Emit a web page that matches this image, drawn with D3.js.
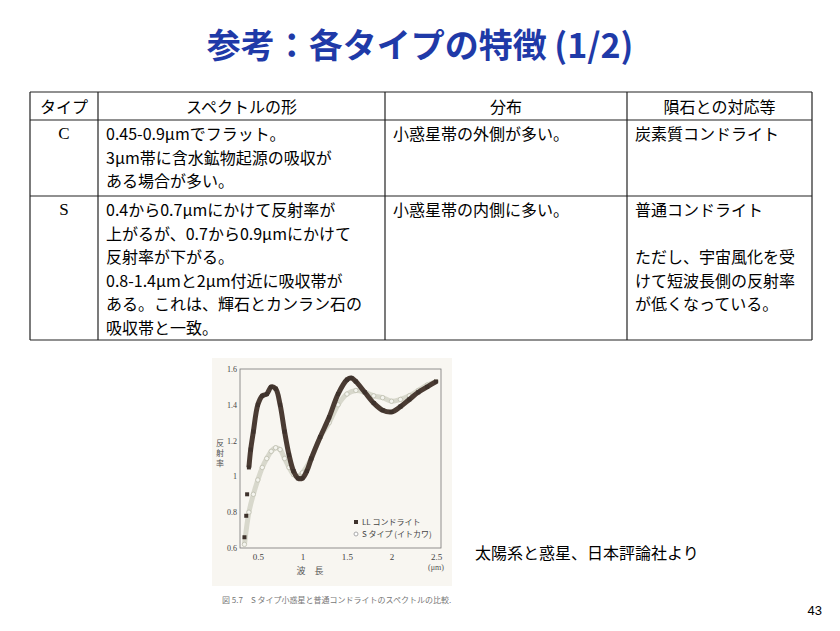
<!DOCTYPE html><html><head><meta charset="utf-8"><script src="https://cdn.jsdelivr.net/npm/d3@7"></script>
<style>body{margin:0;background:#fff}svg{display:block}</style></head><body><svg id="s" width="840" height="631"></svg>
<script>
const llX=[0.35,0.37,0.38,0.40,0.42,0.45,0.50,0.55,0.60,0.65,0.70,0.75,0.80,0.85,0.90,0.95,1.00,1.05,1.10,1.20,1.30,1.40,1.50,1.55,1.60,1.70,1.80,1.90,2.00,2.10,2.20,2.30,2.40,2.50];
const llY=[0.66,0.78,0.90,1.05,1.15,1.25,1.40,1.45,1.46,1.50,1.49,1.40,1.25,1.12,1.03,0.99,0.99,1.03,1.10,1.22,1.33,1.46,1.54,1.55,1.53,1.47,1.41,1.37,1.36,1.39,1.43,1.47,1.50,1.53];
const sX=[0.35,0.40,0.45,0.50,0.55,0.60,0.65,0.70,0.75,0.80,0.85,0.90,0.95,1.00,1.10,1.20,1.30,1.40,1.50,1.60,1.70,1.80,1.90,2.00,2.10,2.20,2.30,2.40,2.50];
const sY=[0.62,0.80,0.90,0.98,1.05,1.10,1.14,1.16,1.15,1.10,1.05,1.01,1.00,1.02,1.10,1.22,1.30,1.40,1.46,1.48,1.47,1.45,1.44,1.42,1.43,1.45,1.48,1.51,1.53];
const xTicks=[0.5,1,1.5,2,2.5];
const yTicks=[0.6,0.8,1,1.2,1.4,1.6];
const headers=["タイプ","スペクトルの形","分布","隕石との対応等"];
const rowC=["C",["0.45-0.9μmでフラット。","3μm帯に含水鉱物起源の吸収が","ある場合が多い。"],["小惑星帯の外側が多い。"],["炭素質コンドライト"]];
const rowS=["S",["0.4から0.7μmにかけて反射率が","上がるが、0.7から0.9μmにかけて","反射率が下がる。","0.8-1.4μmと2μm付近に吸収帯が","ある。これは、輝石とカンラン石の","吸収帯と一致。"],["小惑星帯の内側に多い。"],["普通コンドライト","","ただし、宇宙風化を受","けて短波長側の反射率","が低くなっている。"]];
const svg=d3.select("#s");
const jp="'Noto Sans CJK JP',sans-serif";
svg.append("text").attr("x",420).attr("y",58).attr("text-anchor","middle").attr("font-family",jp).attr("font-weight","bold").attr("font-size",34).attr("fill","#1f3aa8").text("参考：各タイプの特徴 (1/2)");
const cols=[30,98,385,627,812], rows=[92,120,196,340];
const t=svg.append("g").attr("stroke","#222").attr("stroke-width",1.2);
rows.forEach(y=>t.append("line").attr("x1",30).attr("x2",812).attr("y1",y).attr("y2",y));
cols.forEach(x=>t.append("line").attr("x1",x).attr("x2",x).attr("y1",92).attr("y2",340));
headers.forEach((h,i)=>svg.append("text").attr("x",(cols[i]+cols[i+1])/2).attr("y",113).attr("text-anchor","middle").attr("font-family",jp).attr("font-size",16).text(h));
function row(r,top){
  svg.append("text").attr("x",64).attr("y",top+19).attr("text-anchor","middle").attr("font-family","'Liberation Serif',serif").attr("font-size",17).text(r[0]);
  [r[1],r[2],r[3]].forEach((lines,i)=>lines.forEach((l,j)=>svg.append("text").attr("x",cols[i+1]+8).attr("y",top+20+j*23.5).attr("font-family",jp).attr("font-size",16).text(l)));
}
row(rowC,120);row(rowS,196);
const g=svg.append("g");
g.append("rect").attr("x",212).attr("y",358).attr("width",240).attr("height",228).attr("fill","#f8f6f1");
const x=d3.scaleLinear().domain([0.3,2.6]).range([240,445]);
const y=d3.scaleLinear().domain([0.6,1.6]).range([548,369]);
g.append("rect").attr("x",240).attr("y",369).attr("width",201).attr("height",179).attr("fill","none").attr("stroke","#777").attr("stroke-width",0.8);
g.append("g").attr("transform","translate(0,548)").call(d3.axisBottom(x).tickValues(xTicks).tickSize(0).tickPadding(6).tickFormat(d=>d)).call(a=>{a.select(".domain").remove();a.selectAll("text").style("font-family","'Liberation Serif',serif").style("font-size","9px").attr("fill","#444");});
g.append("g").attr("transform","translate(240,0)").call(d3.axisLeft(y).tickValues(yTicks).tickSize(0).tickPadding(3).tickFormat(d=>d)).call(a=>{a.select(".domain").remove();a.selectAll("text").style("font-family","'Liberation Serif',serif").style("font-size","8px").attr("fill","#444");});
const ln=d3.line().x(d=>x(d[0])).y(d=>y(d[1])).curve(d3.curveCatmullRom);
const sd=sX.map((v,i)=>[v,sY[i]]), ld=llX.map((v,i)=>[v,llY[i]]);
g.append("path").attr("d",ln(sd)).attr("fill","none").attr("stroke","#d8d8cc").attr("stroke-width",5);
g.selectAll(".sc").data(sd).enter().append("circle").attr("cx",d=>x(d[0])).attr("cy",d=>y(d[1])).attr("r",2.2).attr("fill","#f4f4ee").attr("stroke","#b8b8a8").attr("stroke-width",0.7);
g.append("path").attr("d",ln(ld.slice(3))).attr("fill","none").attr("stroke","#4a3b33").attr("stroke-width",5);
g.selectAll(".lc").data(ld).enter().append("rect").attr("x",d=>x(d[0])-2).attr("y",d=>y(d[1])-2).attr("width",4).attr("height",4).attr("fill","#3e322c");
g.append("rect").attr("x",354).attr("y",520).attr("width",4).attr("height",4).attr("fill","#3e322c");
g.append("text").attr("x",362).attr("y",525).attr("font-family",jp).attr("font-size",8).attr("fill","#444").text("LL コンドライト");
g.append("circle").attr("cx",356).attr("cy",534).attr("r",2).attr("fill","#fff").attr("stroke","#aaa");
g.append("text").attr("x",362).attr("y",537).attr("font-family",jp).attr("font-size",8).attr("fill","#444").text("S タイプ (イトカワ)");
g.append("text").attr("x",310).attr("y",574).attr("text-anchor","middle").attr("font-family",jp).attr("font-size",9).attr("fill","#555").text("波　長");
g.append("text").attr("x",436).attr("y",570).attr("text-anchor","middle").attr("font-family","'Liberation Serif',serif").attr("font-size",8).attr("fill","#555").text("(μm)");
["反","射","率"].forEach((c,i)=>g.append("text").attr("x",220).attr("y",446+i*10).attr("text-anchor","middle").attr("font-family",jp).attr("font-size",8).attr("fill","#555").text(c));
svg.append("text").attr("x",475).attr("y",559).attr("font-family",jp).attr("font-size",16).text("太陽系と惑星、日本評論社より");
svg.append("text").attr("x",222).attr("y",603).attr("font-family",jp).attr("font-size",8).attr("fill","#777").text("図 5.7　S タイプ小惑星と普通コンドライトのスペクトルの比較.");
svg.append("text").attr("x",822).attr("y",615).attr("text-anchor","end").attr("font-family","'Liberation Sans',sans-serif").attr("font-size",13).text("43");
</script></body></html>
